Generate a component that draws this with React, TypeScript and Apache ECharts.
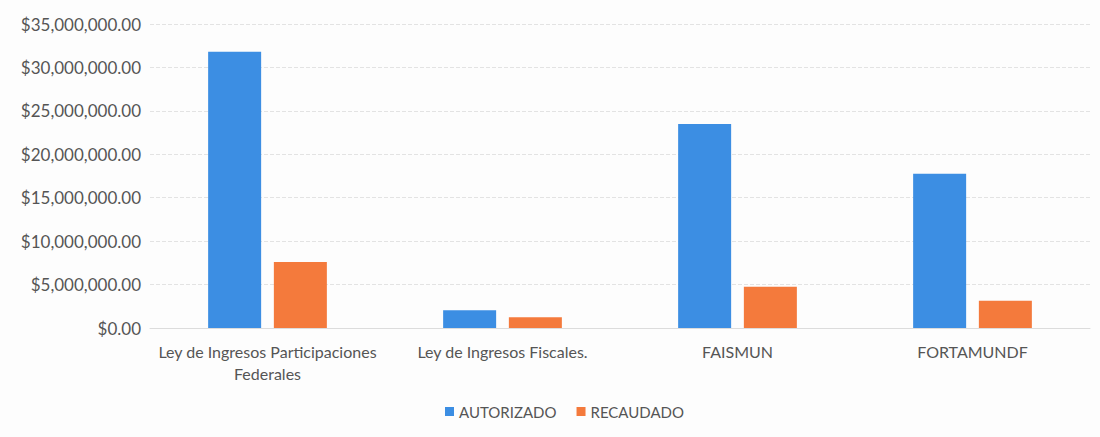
import React, { useEffect, useRef } from "react";
import * as echarts from "echarts";

const categories = [
  "Ley de Ingresos Participaciones\nFederales",
  "Ley de Ingresos Fiscales.",
  "FAISMUN",
  "FORTAMUNDF",
];
const autorizado = [31800000, 2050000, 23500000, 17750000];
const recaudado = [7600000, 1230000, 4750000, 3150000];
const seriesNames = ["AUTORIZADO", "RECAUDADO"];

const fmt = (v: number) =>
  "$" +
  v.toLocaleString("en-US", { minimumFractionDigits: 2, maximumFractionDigits: 2 });

export default function App() {
  const ref = useRef<HTMLDivElement>(null);
  useEffect(() => {
    const chart = echarts.init(ref.current!, undefined, { renderer: "svg" });
    const font = "Lato";
    chart.setOption({
      animation: false,
      backgroundColor: "#fdfdfd",
      grid: { left: 150, right: 10, top: 24, bottom: 109 },
      legend: {
        data: seriesNames,
        bottom: 13,
        left: 440,
        itemWidth: 9,
        itemHeight: 9,
        itemGap: 20,
        icon: "rect",
        textStyle: { color: "#555", fontFamily: font, fontSize: 15 },
      },
      xAxis: {
        type: "category",
        data: categories,
        axisLine: { lineStyle: { color: "#dcdcdc" } },
        axisTick: { show: false },
        axisLabel: {
          interval: 0,
          color: "#555",
          fontFamily: font,
          fontSize: 16,
          margin: 12,
          lineHeight: 22,
        },
      },
      yAxis: {
        type: "value",
        min: 0,
        max: 35000000,
        interval: 5000000,
        axisLine: { show: false },
        axisTick: { show: false },
        splitLine: { lineStyle: { color: "#e3e3e3", type: "dashed" } },
        axisLabel: {
          color: "#555",
          fontFamily: font,
          fontSize: 17,
          margin: 9,
          formatter: (v: number) => fmt(v),
        },
      },
      series: [
        {
          name: seriesNames[0],
          type: "bar",
          data: autorizado,
          barWidth: 53,
          barGap: "24%",
          itemStyle: { color: "#3c8ee3" },
        },
        {
          name: seriesNames[1],
          type: "bar",
          data: recaudado,
          barWidth: 53,
          itemStyle: { color: "#f47a3c" },
        },
      ],
    });
    return () => chart.dispose();
  }, []);
  return (
    <div
      ref={ref}
      style={{ position: "fixed", left: 0, top: 0, width: 1100, height: 437 }}
    />
  );
}
